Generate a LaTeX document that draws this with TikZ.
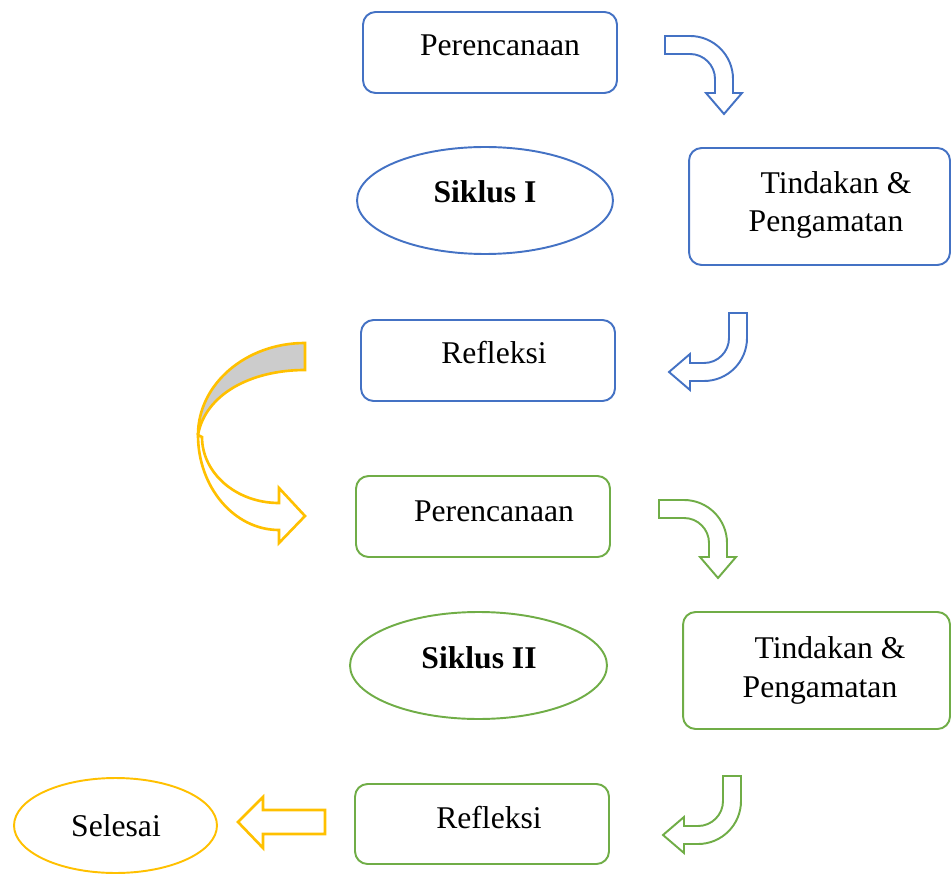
\documentclass[tikz,border=0pt]{standalone}
\usepackage{fontspec}
\setmainfont{Liberation Serif}
\usetikzlibrary{shapes,positioning}
\definecolor{blu}{HTML}{4472C4}
\definecolor{grn}{HTML}{70AD47}
\definecolor{gld}{HTML}{FFC000}
\tikzset{
	stepbox/.style={draw,rounded corners=0.25cm,line width=1.1pt,inner sep=0,outer sep=0},
	cycl/.style={draw,ellipse,line width=1.1pt,inner sep=0,outer sep=0},
	txt/.style={font=\fontsize{18}{22}\selectfont,inner sep=0,anchor=base},
	goldline/.style={draw=gld,line width=1.5pt,line join=miter},
	bentarr/.pic={
		\draw[line width=1.1pt,fill=white] (0,0) -- (25,0) arc[start angle=-90,end angle=0,radius=43] -- (68,57) -- (77,57) -- (59,78) -- (41,57) -- (50,57) -- (50,43) arc[start angle=0,end angle=-90,radius=25] -- (0,18) -- cycle;
	}
}
\begin{document}
\begin{tikzpicture}[x=0.02cm,y=-0.02cm]
	\useasboundingbox (0,0) rectangle (952,874);
	%%% Siklus I
	\node[stepbox,blu,minimum width=5.08cm,minimum height=1.62cm] (per1) at (490,52.5) {};
	\node[cycl,blu,minimum width=5.12cm,minimum height=2.14cm] (sik1) at (485,200.5) {};
	\node[stepbox,blu,minimum width=5.22cm,minimum height=2.34cm] (tin1) at (819.5,206.5) {};
	\node[stepbox,blu,minimum width=5.08cm,minimum height=1.62cm] (ref1) at (488,360.5) {};
	
	\node[txt] (tper1) at (500,56) {Perencanaan};
	\node[txt] (tsik1) at (485,203) {\textbf{Siklus I}};
	\node[txt] (ttin1) at (836,194) {Tindakan \&};
	\node[txt] (tpen1) at (826,232) {Pengamatan};
	\node[txt] (tref1) at (494,363) {Refleksi};
	
	\pic[blu] at (665,36) {bentarr};
	\pic[blu,rotate=-90] at (747,313) {bentarr};
	
	%%% Siklus II
	\node[stepbox,grn,minimum width=5.08cm,minimum height=1.62cm] (per2) at (483,516.5) {};
	\node[cycl,grn,minimum width=5.14cm,minimum height=2.14cm] (sik2) at (478.5,665.5) {};
	\node[stepbox,grn,minimum width=5.34cm,minimum height=2.34cm] (tin2) at (816.5,670.5) {};
	\node[stepbox,grn,minimum width=5.08cm,minimum height=1.6cm] (ref2) at (482,824) {};
	
	\node[txt] (tper2) at (494,521) {Perencanaan};
	\node[txt] (tsik2) at (479,668) {\textbf{Siklus II}};
	\node[txt] (ttin2) at (830,658) {Tindakan \&};
	\node[txt] (tpen2) at (820,697) {Pengamatan};
	\node[txt] (tref2) at (489,828) {Refleksi};
	
	\pic[grn] at (659,500) {bentarr};
	\pic[grn,rotate=-90] at (741,776) {bentarr};
	
	%%% ke siklus II
	\draw[goldline,fill=gray!40] (305,343) .. controls (246,343) and (198,384) .. (198,435) .. controls (205,395) and (250,370) .. (305,370) -- cycle;
	\draw[goldline,fill=white] (198,435) .. controls (198,487) and (234,530) .. (279,530) -- (279,543) -- (305,516) -- (279,488) -- (279,503) .. controls (236,503) and (202,473) .. (202,437) -- cycle;
	
	%%% selesai
	\node[cycl,gld,minimum width=4.06cm,minimum height=1.9cm] (sel) at (115.5,825.5) {};
	\node[txt] (tsel) at (116,836) {Selesai};
	\draw[goldline] (325,810) -- (263,810) -- (263,797) -- (238,822) -- (263,848) -- (263,834) -- (325,834) -- cycle;
\end{tikzpicture}
\end{document}
